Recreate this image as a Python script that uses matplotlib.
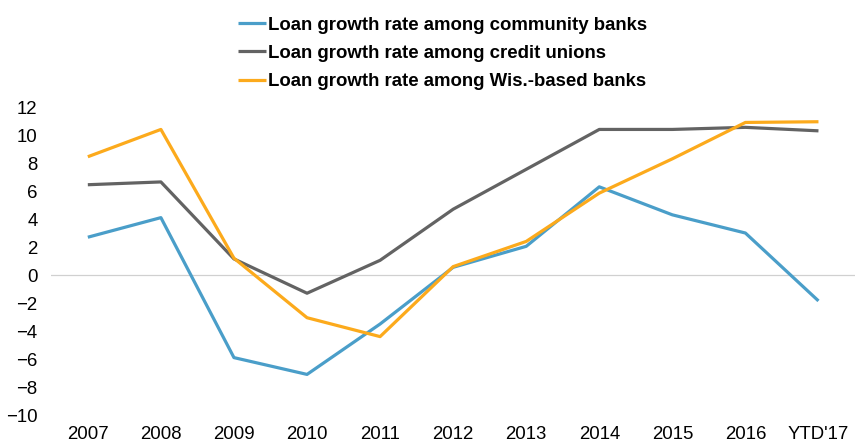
import matplotlib
matplotlib.use("Agg")
import matplotlib.pyplot as plt

plt.rcParams["font.family"] = ["Liberation Sans", "DejaVu Sans"]

years = ["2007", "2008", "2009", "2010", "2011", "2012", "2013",
         "2014", "2015", "2016", "YTD'17"]
community_banks = [2.7, 4.1, -5.9, -7.1, -3.5, 0.55, 2.05, 6.3, 4.3, 3.0, -1.85]
credit_unions = [6.45, 6.65, 1.15, -1.3, 1.05, 4.7, 7.55, 10.4, 10.4, 10.55, 10.3]
wis_banks = [8.45, 10.4, 1.2, -3.05, -4.4, 0.6, 2.4, 5.85, 8.3, 10.9, 10.95]

series = [
    ("Loan growth rate among community banks", community_banks, "#4a9ec9"),
    ("Loan growth rate among credit unions", credit_unions, "#636363"),
    ("Loan growth rate among Wis.-based banks", wis_banks, "#fcaa1c"),
]

fig = plt.figure(figsize=(8.55, 4.46), dpi=100)
ax = fig.add_axes([0.06, 0.0695, 0.94, 0.6905])

x = range(len(years))
for label, vals, color in series:
    ax.plot(x, vals, color=color, lw=2.3, label=label, solid_capstyle="butt")

ax.axhline(0, color="#d0d0d0", lw=0.9, zorder=0)
ax.set_xlim(-0.5, len(years) - 0.5)
ax.set_ylim(-10, 12)
ax.set_yticks(range(-10, 13, 2))
ax.set_xticks(list(x))
ax.set_xticklabels(years)
ax.tick_params(length=0, labelsize=13.4)
ax.tick_params(axis="x", pad=8)
ax.tick_params(axis="y", pad=10)
for s in ax.spines.values():
    s.set_visible(False)

leg = fig.legend(loc="upper left", bbox_to_anchor=(0.259, 1.0), frameon=False,
                 prop={"weight": "bold", "size": 13.4}, handlelength=1.5,
                 handletextpad=0.1, labelspacing=0.6)
for h in leg.get_lines():
    h.set_linewidth(2.3)

fig.savefig("out.png", dpi=100)
